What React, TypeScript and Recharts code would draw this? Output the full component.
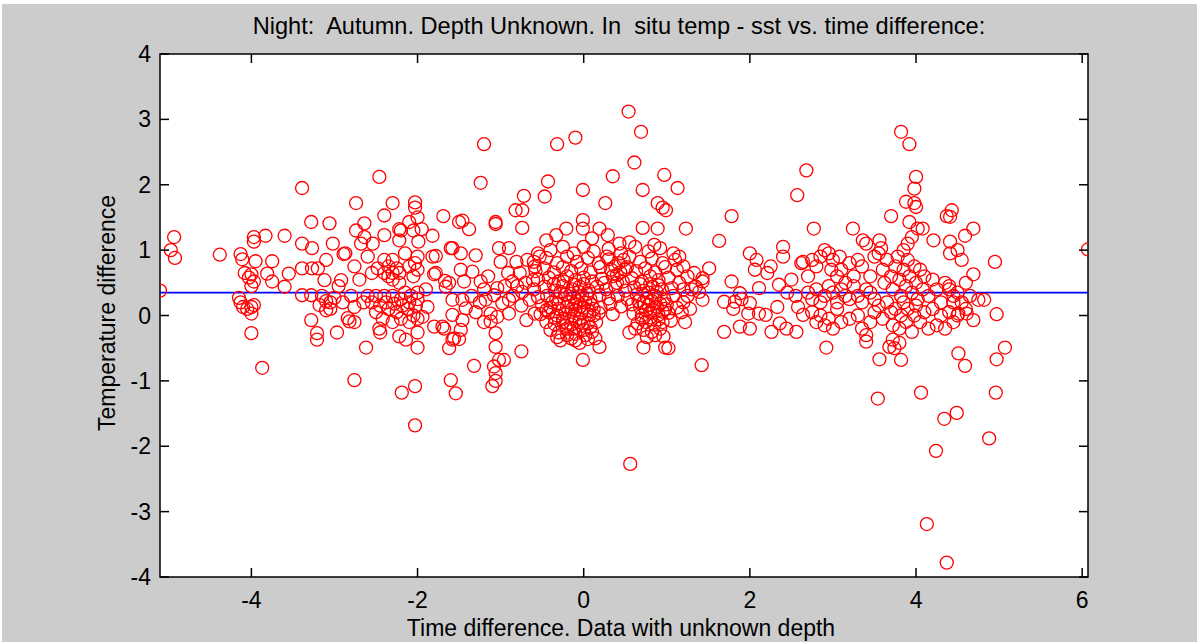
import React from 'react';
import { ScatterChart, Scatter, XAxis, YAxis, ReferenceLine, ReferenceArea } from 'recharts';

const xTicks = [-4, -2, 0, 2, 4, 6];
const yTicks = [-4, -3, -2, -1, 0, 1, 2, 3, 4];
const xRange: [number, number] = [-5.1, 6.07];
const yRange: [number, number] = [-4, 4];
const meanDiff = 0.35;

// [time difference, temperature difference]
const farLeft = [
  [-5.1, 0.38], [-4.97, 1.0], [-4.93, 1.2], [-4.92, 0.88],
  [-4.38, 0.93], [-4.13, 0.94], [-4.11, 0.86], [-4.08, 0.65], [-4.03, 0.58], [-4.0, 0.63], [-3.97, 0.52], [-4.0, 0.45],
  [-4.15, 0.27], [-4.13, 0.2], [-4.1, 0.13], [-4.05, 0.1], [-4.0, 0.13], [-3.97, 0.16], [-4.0, 0.03], [-4.0, -0.27], [-3.87, -0.8],
  [-3.97, 1.2], [-3.97, 1.13], [-3.83, 1.22], [-3.95, 0.83], [-3.75, 0.83], [-3.81, 0.64], [-3.75, 0.52], [-3.6, 1.22], [-3.55, 0.64], [-3.6, 0.44],
  [-3.39, 1.95], [-3.39, 1.1], [-3.27, 1.03], [-3.28, 1.43], [-3.06, 1.41], [-3.39, 0.72], [-3.27, 0.72], [-3.2, 0.72], [-3.1, 0.85], [-3.02, 1.1],
  [-3.39, 0.31], [-3.28, 0.31], [-3.28, -0.07], [-3.21, -0.27], [-3.21, -0.37], [-3.12, 0.54], [-3.15, 0.3], [-3.1, 0.22], [-3.05, 0.2],
  [-3.0, 0.27], [-3.05, 0.1], [-3.1, 0.08], [-3.18, 0.16],
];

const leftCluster = [
  [-2.97, -0.26], [-2.92, 0.54], [-2.89, 0.94], [-2.95, 0.45], [-2.76, 0.75], [-2.74, 1.72], [-2.64, 1.41], [-2.74, 1.3], [-2.64, 1.2],
  [-2.54, 1.1], [-2.68, 1.1], [-2.4, 1.53], [-2.3, 1.72], [-2.46, 2.12], [-2.4, 1.23], [-2.2, 1.3], [-2.22, 1.15], [-2.76, 0.13],
  [-2.84, -0.04], [-2.76, -0.1], [-2.82, -0.09], [-2.62, -0.49], [-2.76, -0.99],
  [-2.48, 0.72], [-2.4, 0.85], [-2.35, 0.75], [-2.3, 0.85], [-2.3, 0.65], [-2.3, 0.55], [-2.22, 0.65], [-2.22, 0.5], [-2.35, 0.6], [-2.4, 0.65], [-2.25, 0.72],
  [-2.6, 0.3], [-2.55, 0.2], [-2.5, 0.3], [-2.45, 0.15], [-2.4, 0.3], [-2.38, 0.2], [-2.35, 0.1], [-2.3, 0.3], [-2.28, 0.18], [-2.25, 0.05],
  [-2.2, 0.25], [-2.18, 0.15], [-2.15, 0.35], [-2.12, 0.1], [-2.1, 0.2], [-2.08, 0.3], [-2.05, 0.0], [-2.02, 0.15], [-2.0, 0.35], [-2.0, 0.25],
  [-2.5, 0.05], [-2.42, -0.05], [-2.3, -0.1], [-2.2, -0.05], [-2.1, -0.1], [-2.0, -0.05],
  [-2.46, -0.2], [-2.45, -0.26], [-2.22, -0.32], [-2.14, -0.37], [-2.0, -0.49], [-2.0, -0.26], [-2.19, -1.18], [-2.03, -1.08], [-2.03, -1.68],
  [-2.03, 1.73], [-2.03, 1.65], [-2.0, 1.5], [-2.1, 1.43], [-2.05, 1.3], [-1.99, 1.13], [-2.22, 1.32], [-2.0, 0.9], [-2.03, 0.8],
  [-2.0, 0.7], [-2.05, 0.6], [-2.1, 0.75], [-2.15, 0.95], [-2.6, 0.9], [-2.55, 0.65], [-2.7, 0.55], [-2.8, 0.3], [-2.65, 0.2], [-2.9, 0.2], [-2.87, 0.95],
];

const midLeft = [
  [-1.95, 1.32], [-1.82, 1.22], [-1.78, 0.91], [-1.69, 1.52], [-1.6, 1.03], [-1.5, 1.43], [-1.46, 1.45], [-1.38, 1.32],
  [-1.8, 0.63], [-1.67, 0.53], [-1.62, 0.5], [-1.78, 0.65], [-1.66, 0.44], [-1.88, 0.13], [-1.94, -0.02], [-1.9, 0.4],
  [-1.58, 0.24], [-1.58, 0.01], [-1.8, -0.17], [-1.7, -0.17], [-1.68, -0.2], [-1.58, -0.37], [-1.5, -0.36], [-1.62, -0.5],
  [-1.56, -0.35], [-1.6, -0.99], [-1.54, -1.19], [-1.82, 0.9], [-1.58, 1.03],
  [-1.48, 0.95], [-1.3, 0.92], [-1.48, 0.7], [-1.44, 0.52], [-1.34, 0.67], [-1.24, 0.52], [-1.46, 0.24], [-1.42, 0.11],
  [-1.46, -0.07], [-1.48, -0.22], [-1.32, -0.77], [-1.35, 0.3], [-1.25, 0.2], [-1.3, 0.05], [-1.2, 0.4], [-1.15, 0.6], [-1.2, -0.1],
  [-1.24, 2.03], [-1.2, 2.62], [-1.06, 1.43], [-1.06, 1.4],
  [-1.02, 1.03], [-0.9, 1.03], [-1.0, 0.82], [-0.81, 0.82], [-0.91, 0.65], [-1.04, 0.42], [-0.9, 0.24], [-1.12, 0.03], [-1.04, -0.02],
  [-1.18, 0.24], [-1.08, 0.31], [-0.77, 0.65], [-0.86, 0.52], [-0.74, 0.36], [-0.98, 0.19], [-0.9, 0.03], [-0.65, 0.24], [-0.59, 0.03],
  [-0.69, -0.07], [-0.61, 0.54], [-0.59, 0.75], [-0.53, 0.9], [-1.06, -0.27], [-1.06, -0.48], [-1.02, -0.68], [-0.96, -0.68],
  [-1.08, -0.78], [-1.06, -0.88], [-1.06, -1.0], [-1.1, -1.08], [-0.75, -0.55], [-1.12, -0.09], [-0.8, 0.45], [-0.7, 0.5],
  [-0.85, 0.3], [-0.75, 0.15], [-0.95, 0.45], [-0.68, 0.85],
];

const centerUpper = [
  [-0.01, 1.92], [-0.43, 2.05], [-0.47, 1.82], [-0.72, 1.83], [-0.82, 1.61], [-0.74, 1.61], [-0.74, 1.34], [0.26, 1.72],
  [0.89, 1.72], [0.95, 1.65], [0.99, 1.61], [0.71, 1.34], [0.89, 1.33], [1.23, 1.33], [0.19, 1.33], [0.29, 1.23], [0.43, 1.1],
  [-0.01, 1.46], [-0.01, 1.33], [-0.21, 1.33], [-0.33, 1.23], [-0.45, 1.15], [-0.32, 2.62], [-0.1, 2.72], [0.54, 3.12],
  [0.69, 2.81], [0.61, 2.34], [0.35, 2.13], [0.97, 2.15], [1.13, 1.95], [0.71, 1.92], [0.55, 1.12], [0.85, 1.08], [0.1, 1.18],
];

const centerCore = [
  [-0.55, 0.95], [-0.4, 1.0], [-0.25, 1.05], [-0.12, 0.95], [0.0, 1.05], [0.12, 0.98], [0.3, 1.02], [0.45, 0.95], [0.62, 1.05], [0.78, 0.98], [0.92, 1.03], [1.08, 0.95],
  [-0.6, 0.82], [-0.45, 0.88], [-0.32, 0.8], [-0.2, 0.9], [-0.08, 0.82], [0.05, 0.88], [0.18, 0.8], [0.3, 0.86], [0.42, 0.8], [0.55, 0.9], [0.68, 0.82], [0.82, 0.87], [0.95, 0.8], [1.1, 0.85],
  [-0.58, 0.68], [-0.48, 0.72], [-0.36, 0.66], [-0.25, 0.74], [-0.15, 0.68], [-0.03, 0.72], [0.08, 0.66], [0.2, 0.74], [0.33, 0.7], [0.44, 0.66], [0.52, 0.74], [0.63, 0.68], [0.74, 0.72], [0.86, 0.66], [0.98, 0.74], [1.12, 0.7],
  [-0.55, 0.55], [-0.42, 0.58], [-0.3, 0.52], [-0.2, 0.6], [-0.1, 0.54], [0.0, 0.58], [0.1, 0.52], [0.22, 0.56], [0.35, 0.6], [0.47, 0.52], [0.58, 0.57], [0.7, 0.52], [0.8, 0.6], [0.9, 0.54], [1.02, 0.58], [1.15, 0.5],
  [-0.6, 0.4], [-0.47, 0.44], [-0.35, 0.38], [-0.25, 0.45], [-0.14, 0.4], [-0.05, 0.44], [0.06, 0.38], [0.16, 0.44], [0.27, 0.4], [0.38, 0.45], [0.5, 0.38], [0.61, 0.43], [0.72, 0.38], [0.83, 0.44], [0.94, 0.4], [1.06, 0.42], [1.2, 0.4],
  [-0.55, 0.28], [-0.44, 0.3], [-0.33, 0.25], [-0.22, 0.32], [-0.12, 0.27], [-0.02, 0.3], [0.08, 0.25], [0.19, 0.31], [0.3, 0.26], [0.41, 0.3], [0.53, 0.25], [0.64, 0.32], [0.76, 0.27], [0.86, 0.3], [0.97, 0.25], [1.08, 0.3],
  [-0.5, 0.15], [-0.4, 0.12], [-0.3, 0.18], [-0.2, 0.13], [-0.1, 0.17], [0.0, 0.12], [0.1, 0.16], [0.2, 0.12], [0.32, 0.18], [0.45, 0.14], [0.58, 0.17], [0.68, 0.12], [0.78, 0.16], [0.88, 0.13], [1.0, 0.17], [1.12, 0.12],
  [-0.52, 0.02], [-0.42, 0.05], [-0.32, 0.0], [-0.22, 0.04], [-0.12, 0.0], [-0.03, 0.05], [0.07, 0.01], [0.18, 0.04], [0.35, 0.02], [0.6, 0.03], [0.7, 0.0], [0.8, 0.05], [0.9, 0.01], [1.02, 0.04],
  [-0.45, -0.1], [-0.35, -0.13], [-0.25, -0.1], [-0.15, -0.14], [-0.05, -0.1], [0.05, -0.12], [0.15, -0.1], [0.65, -0.12], [0.75, -0.1], [0.85, -0.14], [0.95, -0.1],
  [-0.4, -0.22], [-0.3, -0.26], [-0.2, -0.2], [-0.1, -0.28], [0.0, -0.22], [0.1, -0.25], [0.72, -0.22], [0.82, -0.25], [0.92, -0.2], [0.55, -0.26],
  [-0.28, -0.38], [-0.15, -0.35], [-0.05, -0.42], [0.05, -0.36], [0.19, -0.48], [-0.01, -0.68], [0.72, -0.49], [0.98, -0.49], [1.02, -0.5],
  [-0.18, 0.2], [-0.08, 0.22], [0.02, 0.2], [-0.15, -0.05], [-0.05, -0.05], [0.05, 0.08], [-0.1, 0.08], [-0.25, -0.05], [0.12, 0.0], [-0.3, 0.1],
  [0.72, 0.2], [0.82, 0.22], [0.92, 0.18], [0.75, 0.08], [0.85, 0.08], [0.95, 0.06],
  [0.38, 0.75], [0.48, 0.85], [0.4, 0.62], [0.28, 0.9], [0.5, 0.7],
];

// the two solid-looking blobs either side of x = 0.5
const centerDense = [
  [-0.38, 0.2], [-0.28, 0.36], [-0.16, 0.33], [-0.06, 0.36], [0.04, 0.33], [-0.35, -0.03], [-0.22, -0.16], [-0.12, -0.2],
  [-0.02, -0.16], [0.08, -0.18], [-0.45, 0.08], [-0.36, 0.48], [-0.24, 0.52], [-0.12, 0.47], [0.0, 0.48], [-0.2, -0.3],
  [-0.1, -0.38], [0.02, -0.3], [-0.32, -0.33], [0.14, -0.35], [-0.14, 0.1], [-0.04, 0.14], [0.12, 0.1],
  [0.66, 0.22], [0.7, -0.05], [0.8, -0.03], [0.9, -0.06], [0.78, 0.35], [0.88, 0.36], [0.98, 0.1], [1.05, -0.08],
  [0.68, 0.48], [0.8, 0.48], [0.9, 0.46], [0.62, -0.2], [0.86, -0.3], [0.96, -0.32], [0.76, -0.33], [0.25, 0.5], [0.4, 0.5],
];

const rightMid = [
  [1.15, 0.9], [1.2, 0.75], [1.25, 0.6], [1.3, 0.4], [1.2, 0.2], [1.25, 0.3], [1.18, 0.05], [1.28, 0.1], [1.22, -0.1],
  [1.33, 0.65], [1.43, 0.57], [1.35, 0.44], [1.51, 0.72], [1.43, 0.52], [1.43, 0.24], [1.39, 0.36], [1.63, 1.14], [1.78, 1.52],
  [1.78, 0.52], [1.69, 0.21], [1.82, 0.21], [1.88, 0.34], [2.0, 0.19], [1.98, 0.03], [1.69, -0.25], [1.88, -0.17], [2.0, -0.2],
  [2.0, 0.95], [2.08, 0.85], [2.06, 0.7], [2.11, 0.42], [2.21, 0.65], [2.25, 0.75], [2.35, 0.47], [2.4, 1.05], [2.4, 0.9],
  [2.11, 0.03], [2.19, 0.01], [2.33, 0.13], [2.36, -0.12], [2.26, -0.25], [2.44, -0.2], [2.56, -0.25], [2.64, 0.01], [2.58, 0.13],
  [2.64, 0.82], [2.68, 2.22], [2.57, 1.84], [2.77, 1.33], [1.42, -0.76], [1.8, 0.1], [1.9, 0.25], [2.45, 0.35], [2.5, 0.55], [2.55, 0.3],
];

const rightCluster = [
  [2.62, 0.8], [2.7, 0.6], [2.75, 0.85], [2.8, 0.75], [2.85, 0.9], [2.9, 1.0], [2.95, 0.95], [2.98, 0.7], [3.0, 0.85], [3.05, 0.6],
  [3.08, 0.9], [3.1, 0.7], [3.15, 0.5], [3.2, 0.8], [3.25, 0.6], [3.3, 0.85], [3.35, 0.75], [3.4, 1.1], [3.45, 0.6], [3.5, 0.9],
  [3.24, 1.33], [3.36, 1.15], [3.56, 1.15], [3.58, 1.03],
  [2.7, 0.35], [2.75, 0.25], [2.8, 0.4], [2.85, 0.2], [2.9, 0.3], [2.95, 0.45], [3.0, 0.35], [3.05, 0.2], [3.1, 0.4], [3.15, 0.3],
  [3.2, 0.25], [3.25, 0.45], [3.3, 0.3], [3.35, 0.2], [3.4, 0.4], [3.45, 0.35], [3.5, 0.25],
  [2.75, 0.05], [2.8, -0.1], [2.85, 0.0], [2.9, -0.15], [2.95, -0.05], [3.0, -0.2], [3.05, 0.1], [3.1, -0.1], [3.2, -0.05],
  [3.3, 0.0], [3.35, -0.2], [3.4, -0.3], [3.45, -0.1], [3.5, 0.05], [2.92, -0.49], [3.4, -0.4], [3.68, -0.48], [3.8, -0.42],
  [3.55, 0.95], [3.6, 0.7], [3.62, 0.5], [3.65, 0.85], [3.7, 0.6], [3.72, 0.4], [3.75, 0.75], [3.78, 0.9], [3.8, 0.55], [3.82, 0.3],
  [3.85, 0.7], [3.88, 0.45], [3.9, 0.85], [3.92, 0.6], [3.95, 0.35], [3.98, 0.75], [4.0, 0.5], [4.02, 0.25], [4.05, 0.7], [4.08, 0.4],
  [4.1, 0.6], [4.15, 0.3], [4.2, 0.55], [4.25, 0.4], [4.3, 0.2], [4.35, 0.5], [4.4, 0.45], [4.45, 0.3],
  [3.55, 0.15], [3.6, -0.05], [3.65, 0.2], [3.7, 0.05], [3.72, -0.15], [3.75, 0.1], [3.8, -0.2], [3.82, 0.0], [3.85, 0.2], [3.88, -0.1],
  [3.9, 0.1], [3.95, -0.25], [3.98, 0.0], [4.0, 0.15], [4.05, -0.1], [4.1, 0.05], [4.15, -0.2], [4.2, 0.1], [4.25, -0.15], [4.3, 0.0],
  [4.35, -0.2], [4.4, 0.05], [4.45, -0.1], [4.5, 0.0], [4.55, 0.2], [4.6, 0.1], [4.4, 0.4], [4.45, 0.2], [4.5, 0.35],
  [3.9, 1.1], [3.85, 1.0], [3.95, 1.2], [4.55, 0.85], [4.6, 0.5], [4.65, 0.3], [4.82, 0.24],
];

const rightOutliers = [
  [3.82, 2.81], [3.92, 2.62], [4.0, 2.12], [3.98, 1.94], [3.88, 1.74], [3.98, 1.72], [4.0, 1.66], [3.7, 1.52], [4.37, 1.52],
  [4.43, 1.61], [4.41, 1.51], [3.92, 1.43], [4.02, 1.33], [4.08, 1.33], [4.69, 1.33], [4.59, 1.22], [4.41, 1.13], [4.21, 1.15],
  [4.5, 1.0], [4.41, 0.95], [4.95, 0.82], [4.69, 0.63], [6.07, 1.01],
  [4.97, 0.02], [4.75, 0.24], [4.69, -0.07], [4.61, 0.03], [4.51, 0.03], [5.07, -0.49], [4.97, -0.67], [4.51, -0.58], [4.59, -0.77],
  [3.56, -0.67], [3.82, -0.68], [3.74, -0.5], [3.72, -0.37], [3.54, -1.27], [4.06, -1.18], [4.96, -1.18], [4.34, -1.58],
  [4.49, -1.49], [4.24, -2.07], [4.88, -1.88], [4.13, -3.19], [4.37, -3.78], [0.56, -2.27],
];

const points = [
  ...farLeft, ...leftCluster, ...midLeft, ...centerUpper, ...centerCore, ...centerDense,
  ...rightMid, ...rightCluster, ...rightOutliers,
].map(([x, y]) => ({ x, y }));

const font = '"Liberation Sans", Arial, sans-serif';
const fontSize = 23;

// plot box edges in pixels (chart margins + axis sizes)
const plotLeft = 160;
const plotRight = 1088;
const plotTop = 54;
const plotBottom = 577;
const tickLen = 9;

const Ring = (props: any) => {
  const { cx, cy } = props;
  if (cx == null || cy == null) return null;
  return <circle cx={cx} cy={cy} r={6.5} fill="none" stroke="#ff0000" strokeWidth={1.3} />;
};

const XTick = (props: any) => {
  const { x, payload } = props;
  return (
    <g>
      <line x1={x} x2={x} y1={plotBottom} y2={plotBottom - tickLen} stroke="#000" strokeWidth={1.5} />
      <line x1={x} x2={x} y1={plotTop} y2={plotTop + tickLen} stroke="#000" strokeWidth={1.5} />
      <text x={x} y={plotBottom + 31} textAnchor="middle" fontFamily={font} fontSize={fontSize} fill="#000">
        {payload.value}
      </text>
    </g>
  );
};

const YTick = (props: any) => {
  const { y, payload } = props;
  return (
    <g>
      <line x1={plotLeft} x2={plotLeft + tickLen} y1={y} y2={y} stroke="#000" strokeWidth={1.5} />
      <line x1={plotRight} x2={plotRight - tickLen} y1={y} y2={y} stroke="#000" strokeWidth={1.5} />
      <text x={plotLeft - 9} y={y + 8} textAnchor="end" fontFamily={font} fontSize={fontSize} fill="#000">
        {payload.value}
      </text>
    </g>
  );
};

export default function App() {
  return (
    <div style={{ position: 'absolute', left: 0, top: 0, width: 1201, height: 642, background: '#fff' }}>
      <div style={{ position: 'absolute', left: 2, top: 4, width: 1195, height: 638, background: '#cccccc' }} />
      <div style={{ position: 'absolute', left: 0, top: 0 }}>
        <ScatterChart width={1201} height={642} margin={{ top: plotTop, right: 1201 - plotRight, bottom: 25, left: plotLeft - 60 }}>
          <ReferenceArea
            x1={xRange[0]}
            x2={xRange[1]}
            y1={yRange[0]}
            y2={yRange[1]}
            fill="#ffffff"
            fillOpacity={1}
            stroke="#000"
            strokeWidth={1.5}
          />
          <XAxis
            type="number"
            dataKey="x"
            domain={xRange}
            ticks={xTicks}
            allowDataOverflow
            height={40}
            axisLine={false}
            tickLine={false}
            tick={XTick}
            interval={0}
          />
          <YAxis
            type="number"
            dataKey="y"
            domain={yRange}
            ticks={yTicks}
            allowDataOverflow
            width={60}
            axisLine={false}
            tickLine={false}
            tick={YTick}
            interval={0}
          />
          <Scatter data={points} shape={Ring} isAnimationActive={false} />
          <ReferenceLine y={meanDiff} stroke="#0000ff" strokeWidth={1.6} />
        </ScatterChart>
      </div>
      <div style={{ position: 'absolute', left: 150, top: 15, width: 938, textAlign: 'center', fontFamily: font, fontSize: 23.6, lineHeight: `${fontSize}px`, color: '#000', whiteSpace: 'pre' }}>
        {'Night:  Autumn. Depth Unknown. In  situ temp - sst vs. time difference:'}
      </div>
      <div style={{ position: 'absolute', left: 157, top: 617, width: 928, textAlign: 'center', fontFamily: font, fontSize, lineHeight: `${fontSize}px`, color: '#000' }}>
        Time difference. Data with unknown depth
      </div>
      <div style={{ position: 'absolute', left: 107, top: 313, transform: 'translate(-50%, -50%) rotate(-90deg)', whiteSpace: 'nowrap', fontFamily: font, fontSize, lineHeight: `${fontSize}px`, color: '#000' }}>
        Temperature difference
      </div>
    </div>
  );
}
